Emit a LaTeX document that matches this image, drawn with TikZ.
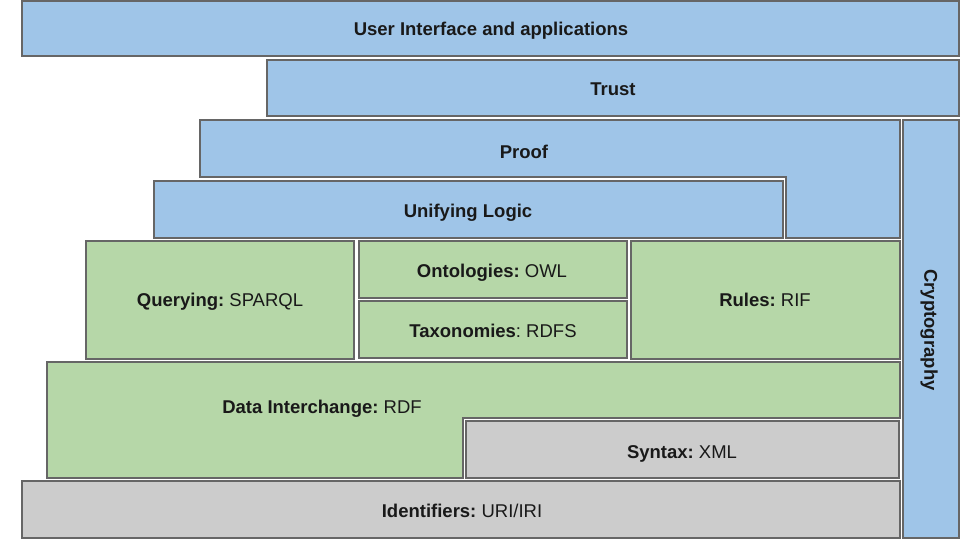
\documentclass[tikz,border=0pt]{standalone}
\usepackage{fontspec}
\setmainfont{Liberation Sans}
\frenchspacing
\definecolor{stackblue}{HTML}{9FC5E8}
\definecolor{stackgreen}{HTML}{B6D7A8}
\definecolor{stackgray}{HTML}{CCCCCC}
\definecolor{stackline}{HTML}{666666}
\tikzset{
  layer/.style={draw=stackline, line width=1.6pt},
  tag/.style={inner sep=0pt, anchor=base, text=black!90}
}

\begin{document}
\begin{tikzpicture}[x=1pt, y=-1pt, font=\fontsize{18.5}{22}\selectfont]
    \useasboundingbox (0,0) rectangle (960,540);
		\draw[layer, fill=stackblue] (22,1) rectangle (959,56);
		\draw[layer, fill=stackblue] (267,60) rectangle (959,116);
		\draw[layer, fill=stackblue] (200,120) -- (900,120) -- (900,238) -- (786,238) -- (786,177) -- (200,177) -- cycle;
		\draw[layer, fill=stackblue] (154,181) rectangle (783,238);
		\draw[layer, fill=stackblue] (903,120) rectangle (959,538);
		\draw[layer, fill=stackgreen] (86,241) rectangle (354,359);
		\draw[layer, fill=stackgreen] (359,241) rectangle (627,298);
		\draw[layer, fill=stackgreen] (359,301) rectangle (627,358);
		\draw[layer, fill=stackgreen] (631,241) rectangle (900,359);
		\draw[layer, fill=stackgreen] (47,362) -- (900,362) -- (900,418) -- (463,418) -- (463,478) -- (47,478) -- cycle;
		\draw[layer, fill=stackgray] (466,421) rectangle (899,478);
		\draw[layer, fill=stackgray] (22,481) rectangle (900,538);
    \node[tag] (ui) at (491,36) {\textbf{User Interface and applications}};
    \node[tag] (trust) at (613,95.5) {\textbf{Trust}};
    \node[tag] (proof) at (524,158.5) {\textbf{Proof}};
    \node[tag] (logic) at (468,217.5) {\textbf{Unifying Logic}};
    \node[tag] (query) at (220,306.5) {\textbf{Querying:} SPARQL};
    \node[tag] (onto) at (492,277) {\textbf{Ontologies:} OWL};
    \node[tag] (taxo) at (493,337) {\textbf{Taxonomies}: RDFS};
    \node[tag] (rules) at (765,306.5) {\textbf{Rules:} RIF};
    \node[tag] (rdf) at (322,413.5) {\textbf{Data Interchange:} RDF};
    \node[tag] (syntax) at (682,458.5) {\textbf{Syntax:} XML};
    \node[tag] (ident) at (462,517.5) {\textbf{Identifiers:} URI/IRI};
    \node[tag, anchor=center, rotate=-90] (crypto) at (929,330) {\textbf{Cryptography}};
\end{tikzpicture}
\end{document}
